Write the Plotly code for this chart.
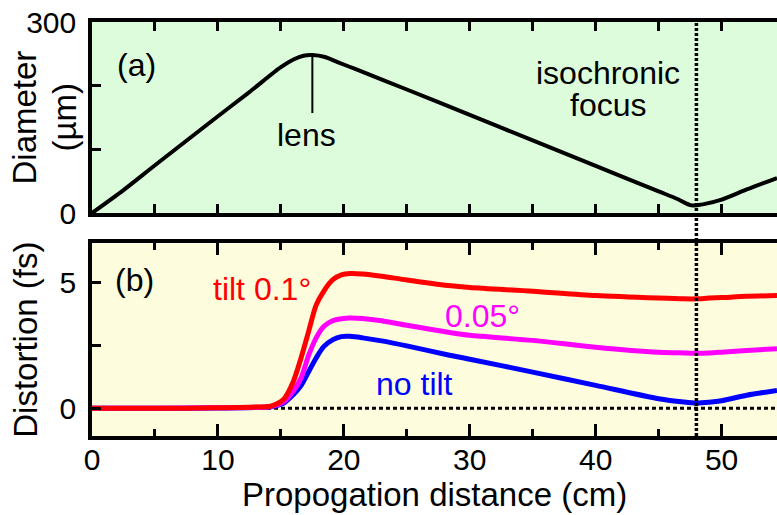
import plotly.graph_objects as go

# ---- data ----
x_diam = [0, 2.5, 5, 10, 12.5, 15, 16, 16.8, 17.5, 18.5, 19.5, 20.8, 25, 30, 35, 40, 45, 46.5, 47.6, 48.6, 50, 52, 54.4]
diameter = [0, 36, 75, 152, 190, 229, 241, 247, 248, 245, 237, 227, 194, 154, 114, 74, 34, 22, 12, 14, 21, 37, 55]

x_dist = [0, 5, 10, 13, 14.2, 15.2, 16.0, 16.6, 17.2, 17.8, 18.4, 19.1, 19.8, 20.5, 21.5, 23, 25, 28.3, 30, 35, 40, 45, 47, 48, 49, 50, 52, 54.4]
tilt_01 = [0, 0, 0.02, 0.05, 0.09, 0.35, 1.08, 2.0, 3.05, 4.1, 4.65, 5.1, 5.3, 5.36, 5.34, 5.25, 5.1, 4.88, 4.8, 4.65, 4.48, 4.38, 4.35, 4.35, 4.38, 4.4, 4.45, 4.48]
tilt_005 = [0, 0, 0.02, 0.04, 0.07, 0.25, 0.7, 1.2, 2.1, 2.8, 3.25, 3.48, 3.56, 3.59, 3.57, 3.48, 3.3, 3.02, 2.9, 2.7, 2.43, 2.23, 2.2, 2.19, 2.2, 2.23, 2.3, 2.37]
no_tilt = [0, 0, 0.01, 0.03, 0.06, 0.2, 0.55, 0.9, 1.45, 2.0, 2.45, 2.72, 2.85, 2.86, 2.8, 2.68, 2.48, 2.12, 1.95, 1.44, 0.91, 0.38, 0.25, 0.21, 0.24, 0.3, 0.52, 0.71]

x_range = [0, 54.4]
focus_x = 48
lens_x = 17.5
lens_top = 248
lens_bottom = 157

x_tickvals = [0, 10, 20, 30, 40, 50]
x_ticktext = ["0", "10", "20", "30", "40", "50"]
ya_tickvals = [0, 100, 200, 300]
ya_ticktext = ["0", "", "", "300"]
yb_tickvals = [0, 2.5, 5]
yb_ticktext = ["0", "", "5"]

FONT = "Liberation Sans, Arial, sans-serif"
BG_A = "#dcfcdc"
BG_B = "#fdfcdc"

fig = go.Figure()

fig.add_trace(go.Scatter(x=x_diam, y=diameter, mode="lines",
                         line=dict(color="black", width=4, shape="spline", smoothing=0.8),
                         xaxis="x", yaxis="y", showlegend=False))
fig.add_trace(go.Scatter(x=x_dist, y=no_tilt, mode="lines",
                         line=dict(color="#0000ff", width=5, shape="spline", smoothing=0.8),
                         xaxis="x2", yaxis="y2", showlegend=False))
fig.add_trace(go.Scatter(x=x_dist, y=tilt_005, mode="lines",
                         line=dict(color="#ff00ff", width=5, shape="spline", smoothing=0.8),
                         xaxis="x2", yaxis="y2", showlegend=False))
fig.add_trace(go.Scatter(x=x_dist, y=tilt_01, mode="lines",
                         line=dict(color="#ff0000", width=5, shape="spline", smoothing=0.8),
                         xaxis="x2", yaxis="y2", showlegend=False))

axis_common = dict(showline=True, linecolor="black", linewidth=3.5, showgrid=False, zeroline=False,
                   ticks="inside", tickcolor="black", tickwidth=3,
                   tickfont=dict(family=FONT, size=30, color="black"))
axis_nofont = {k: v for k, v in axis_common.items() if k != "tickfont"}

fig.update_layout(
    width=777, height=515,
    margin=dict(l=92, r=0, t=22, b=79),
    paper_bgcolor="white", plot_bgcolor="rgba(0,0,0,0)",
    font=dict(family=FONT, color="black"),
    xaxis=dict(domain=[0, 1], anchor="y", range=x_range, dtick=5, ticklen=9,
               showticklabels=False, mirror="ticks", **axis_nofont),
    yaxis=dict(domain=[0.5386, 1], anchor="x", range=[0, 300], tickvals=ya_tickvals, ticktext=ya_ticktext,
               ticklen=9, ticklabelstandoff=6, **axis_common),
    xaxis2=dict(domain=[0, 1], anchor="y2", range=x_range, tickvals=x_tickvals, ticktext=x_ticktext,
                ticklen=12, mirror="ticks", ticklabelstandoff=-6,
                minor=dict(dtick=5, ticks="inside", ticklen=7, tickwidth=3, tickcolor="black"),
                **axis_common),
    yaxis2=dict(domain=[0, 0.465], anchor="x2", range=[-1.1, 6.55], tickvals=yb_tickvals, ticktext=yb_ticktext,
                ticklen=9, ticklabelstandoff=6, **axis_common),
)

# panel backgrounds
fig.add_shape(type="rect", xref="x domain", yref="y domain", x0=0, x1=1, y0=0, y1=1,
              fillcolor=BG_A, line_width=0, layer="below")
fig.add_shape(type="rect", xref="x2 domain", yref="y2 domain", x0=0, x1=1, y0=0, y1=1,
              fillcolor=BG_B, line_width=0, layer="below")
# zero line in panel b
fig.add_shape(type="line", xref="x2 domain", yref="y2", x0=0, x1=1, y0=0, y1=0,
              line=dict(color="black", width=3, dash="4px,3px"), layer="below")
# isochronic focus line across both panels
fig.add_shape(type="line", xref="x2", yref="paper", x0=focus_x, x1=focus_x, y0=0, y1=1,
              line=dict(color="black", width=3.5, dash="3px,2px"))
# lens marker
fig.add_shape(type="line", xref="x", yref="y", x0=lens_x, x1=lens_x, y0=lens_bottom, y1=lens_top,
              line=dict(color="black", width=2))

def ann(text, x, y, xref, yref, color="black", size=32, **kw):
    fig.add_annotation(text=text, x=x, y=y, xref=xref, yref=yref, showarrow=False,
                       font=dict(family=FONT, size=size, color=color),
                       xanchor="center", yanchor="middle", **kw)

ann("(a)", 3.57, 232, "x", "y")
ann("lens", 17.0, 122, "x", "y")
ann("isochronic", 41.0, 220, "x", "y")
ann("focus", 41.0, 169, "x", "y")
ann("(b)", 3.34, 5.08, "x2", "y2")
ann("tilt 0.1°", 13.5, 4.76, "x2", "y2", color="#ff0000")
ann("0.05°", 31.0, 3.65, "x2", "y2", color="#ff00ff")
ann("no tilt", 25.6, 0.95, "x2", "y2", color="#0000ff")

# axis titles
ann("Diameter", 0, 150, "paper", "y", size=33, textangle=-90, xshift=-67)
ann("(µm)", 0, 150, "paper", "y", size=33, textangle=-90, xshift=-27)
ann("Distortion (fs)", 0, 2.725, "paper", "y2", size=33, textangle=-90, xshift=-66)
ann("Propogation distance (cm)", 27.2, 0, "x2", "paper", size=33, yshift=-58)

fig.write_html("out.html", config={"displayModeBar": False},
               post_script="document.body.style.margin='0';document.body.style.overflow='hidden';")
